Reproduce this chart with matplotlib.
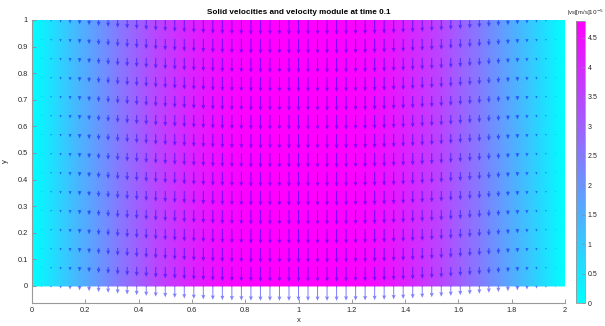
import numpy as np
import matplotlib
matplotlib.use("Agg")
import matplotlib.pyplot as plt

# ---- data ----
x_cols = np.arange(57) / 28.0          # quiver / field grid in x (0..2)
y_rows = np.arange(15) / 14.0          # quiver / field grid in y (0..1)
# solid velocity module per column, units of 1e-5 m/s
vel = [0.00, 0.29, 0.57, 0.86, 1.15, 1.44, 1.68, 1.96, 2.20, 2.49,
       2.73, 2.97, 3.21, 3.45, 3.64, 3.83, 4.02, 4.17, 4.31, 4.45,
       4.55, 4.65, 4.69, 4.74, 4.79, 4.79, 4.79, 4.79, 4.79,
       4.79, 4.79, 4.79, 4.79, 4.74, 4.69, 4.65, 4.55, 4.45, 4.31,
       4.17, 4.02, 3.83, 3.64, 3.45, 3.21, 2.97, 2.73, 2.49, 2.20,
       1.96, 1.68, 1.44, 1.15, 0.86, 0.57, 0.29, 0.00]
x_ticks = [0, 0.2, 0.4, 0.6, 0.8, 1, 1.2, 1.4, 1.6, 1.8, 2]
x_ticklabels = ["0", "0.2", "0.4", "0.6", "0.8", "1", "1.2", "1.4", "1.6", "1.8", "2"]
y_ticks = [0, 0.1, 0.2, 0.3, 0.4, 0.5, 0.6, 0.7, 0.8, 0.9, 1]
y_ticklabels = ["0", "0.1", "0.2", "0.3", "0.4", "0.5", "0.6", "0.7", "0.8", "0.9", "1"]
cb_ticks = [0, 0.5, 1, 1.5, 2, 2.5, 3, 3.5, 4, 4.5]
cb_ticklabels = ["0", "0.5", "1", "1.5", "2", "2.5", "3", "3.5", "4", "4.5"]
title = "Solid velocities and velocity module at time 0.1"

plt.rcParams['font.family'] = ['Liberation Sans', 'DejaVu Sans']

W, H = 605, 326
fig = plt.figure(figsize=(W / 100, H / 100), dpi=100)

def px(l, t, r, b):
    return [l / W, 1 - b / H, (r - l) / W, (b - t) / H]

ax = fig.add_axes(px(32, 20, 565, 303))
vel_a = np.asarray(vel)
vmax = vel_a.max()
X, Y = np.meshgrid(x_cols, y_rows)
C = np.tile(vel_a, (len(y_rows), 1))
mesh = ax.pcolormesh(X, Y, C, shading='gouraud', cmap='cool', vmin=0, vmax=vmax)

U = np.zeros_like(C)
V = -C
ax.quiver(X, Y, U, V, angles='xy', scale_units='xy', scale=vmax / 0.056,
          color=(0.0, 0.0, 1.0), alpha=0.5, units='dots', width=1.0,
          headwidth=4.0, headlength=4.5, headaxislength=4.0, minlength=0.1)

ax.set_xlim(0, 2)
ax.set_ylim(-0.064, 1.0)
ax.set_xticks(x_ticks)
ax.set_xticklabels(x_ticklabels)
ax.set_yticks(y_ticks)
ax.set_yticklabels(y_ticklabels)
ax.tick_params(direction='in', length=3, width=0.6, labelsize=5.3,
               colors='0.55', labelcolor='0.15', pad=3)
for s in ['top', 'right']:
    ax.spines[s].set_visible(False)
for s in ['left', 'bottom']:
    ax.spines[s].set_color('0.6')
    ax.spines[s].set_linewidth(0.8)
ax.set_xlabel('x', fontsize=5.5, color='0.15', labelpad=2)
ax.set_ylabel('y', fontsize=5.5, color='0.15', labelpad=6)
ax.set_title(title, fontsize=5.9, fontweight='bold', pad=4.5)

cax = fig.add_axes(px(576, 20.7, 585, 303))
cb = fig.colorbar(mesh, cax=cax)
cb.set_ticks(cb_ticks)
cb.set_ticklabels(cb_ticklabels)
cax.tick_params(direction='in', length=2, width=0.5, labelsize=5.0,
                colors='0.55', labelcolor='0.15', pad=2)
cb.outline.set_edgecolor('0.6')
cb.outline.set_linewidth(0.6)
fig.text(567 / W, 1 - 13 / H, "|vs|[m/s]$10^{-5}$", fontsize=4.2, color='0.15',
         ha='left', va='center')

fig.savefig('out.png', dpi=100)
